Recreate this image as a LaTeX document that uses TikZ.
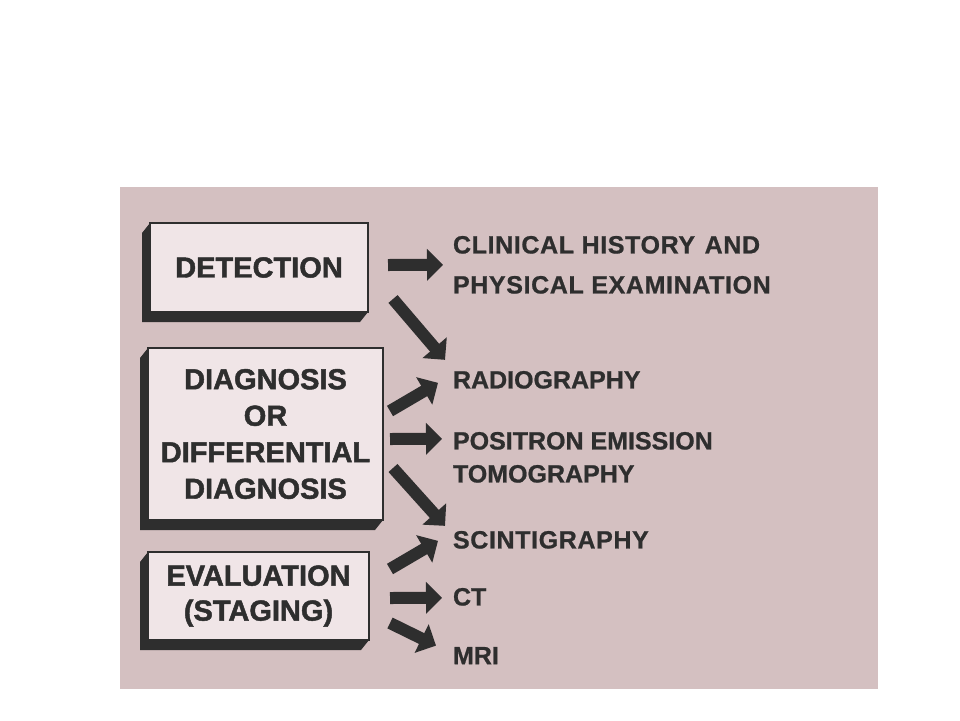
\documentclass[tikz,border=0pt]{standalone}
\usepackage{fontspec}
\setmainfont{Liberation Sans}
\newfontfamily\itemfont{Liberation Sans}[BoldFeatures={FakeBold=0.8}]
\newfontfamily\itemwidefont{Liberation Sans}[BoldFeatures={FakeBold=0.8,LetterSpace=2.5}]
\newfontfamily\headfont{Liberation Sans}[BoldFeatures={FakeBold=1.6}]
\usetikzlibrary{arrows.meta,calc}
\definecolor{bgpink}{HTML}{D4C0C1}
\definecolor{facepink}{HTML}{F0E5E7}
\definecolor{ink}{HTML}{2E2E2E}
\newcommand\boxshadow[1]{\fill[ink] (#1.north west) -- ++(-8,10) -- ([shift={(-8,10)}]#1.south west) -- ([shift={(-8,10)}]#1.south east) -- (#1.south east) -- (#1.south west) -- cycle;}
\begin{document}
\begin{tikzpicture}[x=1pt,y=-1pt,
  boxn/.style={draw=ink, line width=2pt, fill=facepink, outer sep=0pt, inner sep=0pt,
    align=center, text=ink, font=\headfont\fontsize{29}{36.5}\selectfont\bfseries},
  item/.style={anchor=north west, inner sep=0pt, outer sep=0pt, align=left, text=ink,
    font=\itemfont\fontsize{25}{40}\selectfont\bfseries},
  arr/.style={draw=ink, line width=12pt, -{Triangle[width=31pt,length=16pt]}}]
\useasboundingbox (0,0) rectangle (960,720);
\fill[white] (0,0) rectangle (960,720);
\fill[bgpink] (120,187) rectangle (878,689);
% boxes
\node[boxn, minimum width=218pt, minimum height=89pt] (det) at (259,267.5) {DETECTION};
\node[boxn, minimum width=235pt, minimum height=172pt] (dia) at (265.5,434) {DIAGNOSIS\\OR\\DIFFERENTIAL\\DIAGNOSIS};
\node[boxn, minimum width=221pt, minimum height=88pt, font=\headfont\fontsize{29}{35}\selectfont\bfseries] (eva) at (258.5,596) {EVALUATION\\(STAGING)};
\boxshadow{det}
\boxshadow{dia}
\boxshadow{eva}
% items
\node[item, font=\itemwidefont\fontsize{25}{40}\selectfont\bfseries] (clin) at (453,236) {CLINICAL HISTORY\hspace{2pt} AND\\PHYSICAL EXAMINATION};
\node[item] (rad) at (453,371) {RADIOGRAPHY};
\node[item, font=\itemfont\fontsize{25}{33}\selectfont\bfseries] (pet) at (453,432) {POSITRON EMISSION\\TOMOGRAPHY};
\node[item, font=\itemwidefont\fontsize{25}{40}\selectfont\bfseries] (sci) at (453,531) {SCINTIGRAPHY};
\node[item] (ct) at (453,588) {CT};
\node[item] (mri) at (453,647) {MRI};
% arrows
\draw[arr] ([shift={(20,-2.5)}]det.east) -- ([shift={(-10,0)}]clin.west);
\draw[arr] ([shift={(25,31.5)}]det.east) -- ([shift={(-8,-20)}]rad.west);
\draw[arr] ([shift={(7,-23)}]dia.east) -- ([shift={(-15,3)}]rad.west);
\draw[arr] ([shift={(7,5)}]dia.east) -- ([shift={(-11,-18.5)}]pet.west);
\draw[arr] ([shift={(10,34)}]dia.east) -- ([shift={(-8,-14)}]sci.west);
\draw[arr] ([shift={(21,-27)}]eva.east) -- ([shift={(-15,1)}]sci.west);
\draw[arr] ([shift={(21,2)}]eva.east) -- ([shift={(-11,1)}]ct.west);
\draw[arr] ([shift={(21,27)}]eva.east) -- ([shift={(-17,-10)}]mri.west);
\end{tikzpicture}
\end{document}
